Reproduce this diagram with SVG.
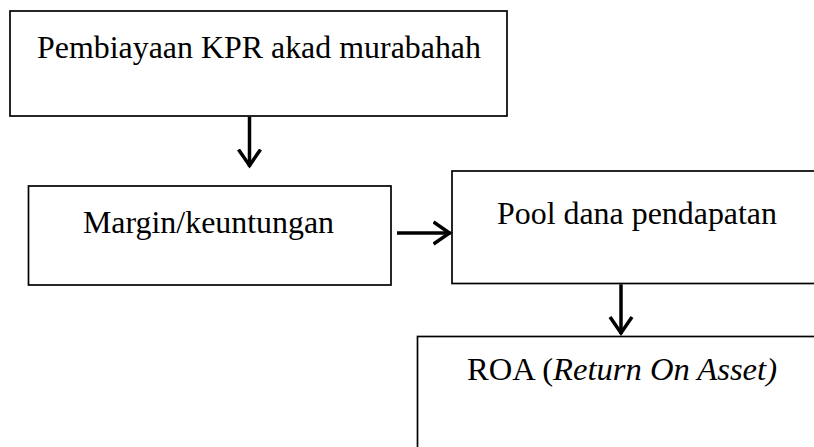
<svg xmlns="http://www.w3.org/2000/svg" width="814" height="447" viewBox="0 0 814 447">
<defs>
<style>
.box{fill:#fff;stroke:#000;stroke-width:1.7}
.lbl{font-family:"Liberation Serif","Times New Roman",serif;font-size:31px;fill:#000}
.conn{stroke:#000;stroke-width:3.5;fill:none}
</style>
<marker id="arr" viewBox="0 0 22 26" refX="18" refY="13" markerWidth="22" markerHeight="26" markerUnits="userSpaceOnUse" orient="auto">
<path d="M1,2 L17,13 L1,24" fill="none" stroke="#000" stroke-width="3.5" stroke-linejoin="miter"/>
</marker>
</defs>
<rect width="814" height="447" fill="#fff"/>
<g id="node-kpr">
<rect class="box" x="10" y="11" width="497" height="105"/>
<text class="lbl" x="37" y="58" textLength="444" lengthAdjust="spacingAndGlyphs">Pembiayaan KPR akad murabahah</text>
</g>
<g id="node-margin">
<rect class="box" x="28.5" y="186" width="362.5" height="99"/>
<text class="lbl" x="83" y="232.5" textLength="251" lengthAdjust="spacingAndGlyphs">Margin/keuntungan</text>
</g>
<g id="node-pool">
<rect class="box" x="452" y="171" width="420" height="112.5"/>
<text class="lbl" x="497" y="223.5" textLength="280" lengthAdjust="spacingAndGlyphs">Pool dana pendapatan</text>
</g>
<g id="node-roa">
<rect class="box" x="417.5" y="336.5" width="450" height="200"/>
<text class="lbl" x="467" y="380" textLength="310" lengthAdjust="spacingAndGlyphs">ROA (<tspan font-style="italic">Return On Asset)</tspan></text>
</g>
<g id="connectors">
<line class="conn" x1="249.5" y1="116.8" x2="249.5" y2="166.5" marker-end="url(#arr)"/>
<line class="conn" x1="397" y1="233" x2="450.5" y2="233" marker-end="url(#arr)"/>
<line class="conn" x1="621" y1="284.3" x2="621" y2="334" marker-end="url(#arr)"/>
</g>
</svg>
